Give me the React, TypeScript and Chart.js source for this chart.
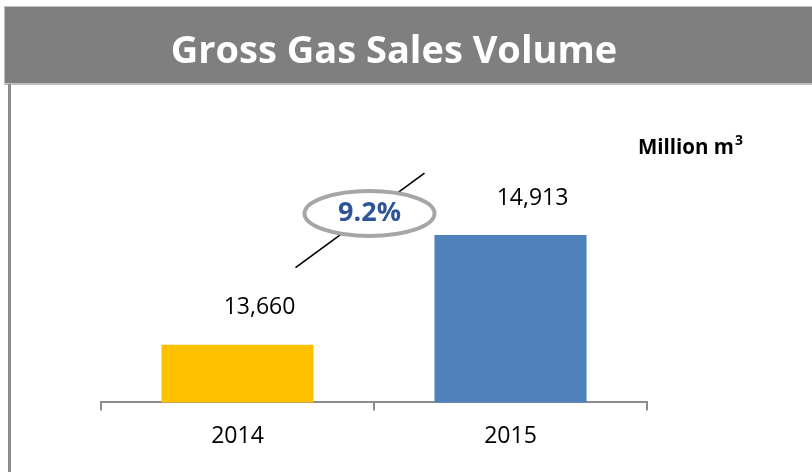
import React, { useEffect, useRef } from "react";
import { Chart, registerables } from "chart.js";

Chart.register(...registerables);

const categories: string[] = ["2014", "2015"];
const volumes: number[] = [13660, 14913];
const barColors: string[] = ["#FFC000", "#4F81BD"];
const valueLabels: string[] = ["13,660", "14,913"];
const growthLabel = "9.2%";
const chartTitle = "Gross Gas Sales Volume";
const unitLabel = "Million m";
const unitSup = "3";
const axisMin = 13000;
const axisMax = 16000;

const FONT = "'Open Sans', 'DejaVu Sans', sans-serif";

const extrasPlugin = {
  id: "extras",
  beforeDraw(chart: any) {
    const ctx = chart.ctx as CanvasRenderingContext2D;
    ctx.save();
    ctx.fillStyle = "#ffffff";
    ctx.fillRect(0, 0, chart.width, chart.height);
    // title bar
    ctx.fillStyle = "#BFBFBF";
    ctx.fillRect(4, 6, chart.width - 4, 79);
    ctx.fillStyle = "#7F7F7F";
    ctx.fillRect(5, 7, chart.width - 5, 76);
    ctx.fillStyle = "#ffffff";
    ctx.font = `bold 38px ${FONT}`;
    ctx.textAlign = "center";
    ctx.textBaseline = "middle";
    ctx.fillText(chartTitle, 394, 52);
    // left border
    ctx.fillStyle = "#8C8C8C";
    ctx.fillRect(8, 84, 3, chart.height - 84);
    ctx.restore();
  },
  afterDatasetsDraw(chart: any) {
    const ctx = chart.ctx as CanvasRenderingContext2D;
    const meta = chart.getDatasetMeta(0);
    ctx.save();
    ctx.fillStyle = "#000000";
    ctx.font = `23px ${FONT}`;
    ctx.textAlign = "center";
    ctx.textBaseline = "middle";
    meta.data.forEach((bar: any, i: number) => {
      ctx.fillText(valueLabels[i], bar.x + 22, bar.y - 37);
    });
    // growth line
    const b0 = meta.data[0];
    const b1 = meta.data[1];
    ctx.strokeStyle = "#000000";
    ctx.lineWidth = 1.6;
    ctx.beginPath();
    ctx.moveTo(b0.x + 58, b0.y - 77);
    ctx.lineTo(b1.x - 86, b1.y - 62);
    ctx.stroke();
    // ellipse
    const cx = (b0.x + b1.x) / 2 - 4.5;
    const cy = 213.5;
    ctx.beginPath();
    ctx.ellipse(cx, cy, 65, 22.5, 0, 0, Math.PI * 2);
    ctx.fillStyle = "#ffffff";
    ctx.fill();
    ctx.strokeStyle = "#A6A6A6";
    ctx.lineWidth = 4;
    ctx.stroke();
    ctx.fillStyle = "#2F5597";
    ctx.font = `bold 27px ${FONT}`;
    ctx.fillText(growthLabel, cx, cy);
    // unit
    ctx.fillStyle = "#000000";
    ctx.font = `bold 20.5px ${FONT}`;
    ctx.textAlign = "left";
    ctx.textBaseline = "alphabetic";
    ctx.fillText(unitLabel, 638, 154);
    const w = ctx.measureText(unitLabel).width;
    ctx.font = `bold 14px ${FONT}`;
    ctx.fillText(unitSup, 638 + w + 1, 145);
    ctx.restore();
  },
};

export default function App() {
  const ref = useRef<HTMLCanvasElement | null>(null);
  useEffect(() => {
    if (!ref.current) return;
    const chart = new Chart(ref.current, {
      type: "bar",
      data: {
        labels: categories,
        datasets: [
          {
            data: volumes,
            backgroundColor: barColors,
            barPercentage: 0.557,
            categoryPercentage: 1,
          },
        ],
      },
      options: {
        animation: false,
        responsive: false,
        maintainAspectRatio: false,
        layout: { padding: { left: 101, right: 165, top: 140, bottom: 10 } },
        plugins: { legend: { display: false }, tooltip: { enabled: false }, title: { display: false } },
        scales: {
          y: { display: false, min: axisMin, max: axisMax },
          x: {
            offset: true,
            grid: { display: true, drawOnChartArea: false, drawTicks: true, tickLength: 8, color: "#8C8C8C", lineWidth: 2, offset: true },
            border: { display: true, color: "#8C8C8C", width: 2 },
            ticks: { color: "#000000", font: { family: FONT, size: 23 }, padding: 12 },
          },
        },
      },
      plugins: [extrasPlugin],
    });
    return () => chart.destroy();
  }, []);
  return (
    <div style={{ position: "fixed", left: 0, top: 0, width: 812, height: 472, background: "#fff" }}>
      <canvas ref={ref} width={812} height={472} style={{ width: 812, height: 472, display: "block" }} />
    </div>
  );
}
